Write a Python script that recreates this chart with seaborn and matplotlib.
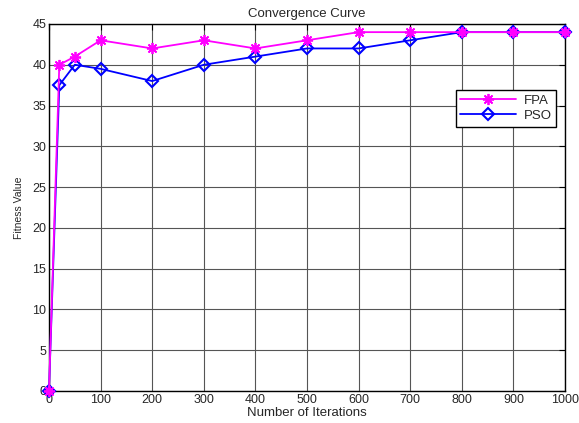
import matplotlib
matplotlib.use("Agg")
import matplotlib.pyplot as plt
import seaborn as sns
import pandas as pd

iterations = [0, 20, 50, 100, 200, 300, 400, 500, 600, 700, 800, 900, 1000]
fpa = [0, 40, 41, 43, 42, 43, 42, 43, 44, 44, 44, 44, 44]
pso = [0, 37.5, 40, 39.5, 38, 40, 41, 42, 42, 43, 44, 44, 44]
xticks = list(range(0, 1001, 100))
yticks = list(range(0, 46, 5))

sns.set_style("white")
plt.rcParams['font.family'] = ['Liberation Sans', 'DejaVu Sans']

fig = plt.figure(figsize=(5.79, 4.23), dpi=100)
ax = fig.add_axes([0.0846, 0.0757, 0.8912, 0.8676])

df_f = pd.DataFrame({"x": iterations, "y": fpa})
df_p = pd.DataFrame({"x": iterations, "y": pso})

sns.lineplot(data=df_p, x="x", y="y", ax=ax, color="#0000ff", marker="D",
             markersize=6, markerfacecolor="none", markeredgecolor="#0000ff",
             markeredgewidth=1.5, linewidth=1.3, label="PSO", zorder=3, clip_on=False)
sns.lineplot(data=df_f, x="x", y="y", ax=ax, color="#ff00ff", marker=(8, 2, 0),
             markersize=8, markeredgecolor="#ff00ff", markeredgewidth=1.3,
             linewidth=1.3, label="FPA", zorder=4, clip_on=False)

ax.set_xlim(0, 1000)
ax.set_ylim(0, 45)
ax.set_xticks(xticks)
ax.set_yticks(yticks)
ax.grid(True, color="#555555", linewidth=0.8, linestyle="-")
ax.tick_params(direction="in", top=True, right=True, labelsize=9, length=4, color="black", pad=2)
for s in ax.spines.values():
    s.set_color("black")
    s.set_linewidth(1.0)

ax.set_xlabel("Number of Iterations", fontsize=9.5, labelpad=1)
ax.set_ylabel("Fitness Value", fontsize=7.5, labelpad=6)
ax.set_title("Convergence Curve", fontsize=9.5, pad=5)

handles, labels = ax.get_legend_handles_labels()
order = [labels.index("FPA"), labels.index("PSO")]
leg = ax.legend([handles[i] for i in order], [labels[i] for i in order],
                loc="upper right", bbox_to_anchor=(0.996, 0.839), fontsize=9.5,
                frameon=True, fancybox=False, edgecolor="black", framealpha=1,
                handlelength=4.2, borderpad=0.35, labelspacing=0.25, handletextpad=0.6)
leg.get_frame().set_linewidth(1.0)

fig.savefig("out.png", dpi=100)
